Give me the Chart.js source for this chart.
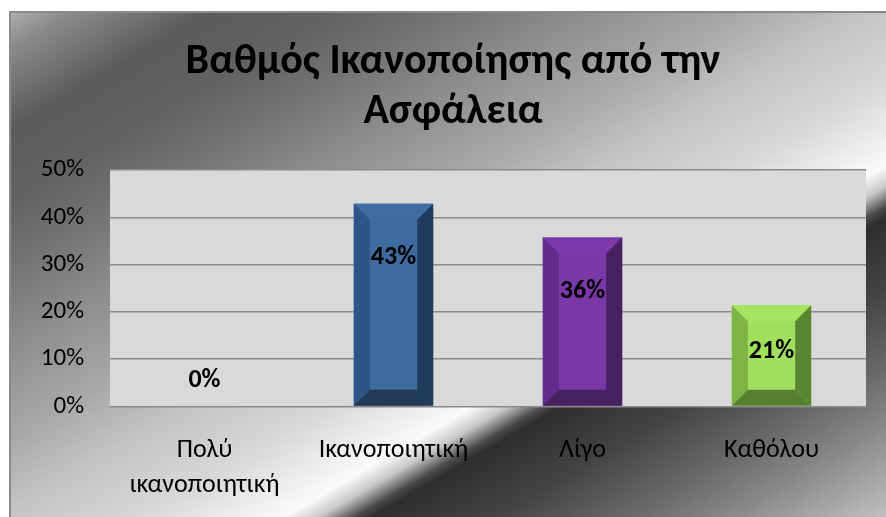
<!DOCTYPE html>
<html>
<head>
<meta charset="utf-8">
<script src="https://cdn.jsdelivr.net/npm/chart.js@4"></script>
<style>
  body { margin: 0; background: #ffffff; }
  canvas { display: block; }
</style>
</head>
<body>
<canvas id="chart" width="886" height="517"></canvas>
<script>
const categories = [['Πολύ', 'ικανοποιητική'], 'Ικανοποιητική', 'Λίγο', 'Καθόλου'];
const values = [0, 42.86, 35.71, 21.43];
const yTicks = [0, 10, 20, 30, 40, 50];
const titleLines = ['Βαθμός Ικανοποίησης από την', 'Ασφάλεια'];

// face, top, left, right, bottom
const barShades = [
    ['#3d6a9f', '#3e6ca3', '#2e5587', '#203a5c', '#233a57'],
    ['#3d6a9f', '#3e6ca3', '#2e5587', '#203a5c', '#233a57'],
    ['#7a37a8', '#7c39ac', '#632b8c', '#47205f', '#452360'],
    ['#a1e05d', '#a5e660', '#80b345', '#5b8631', '#587e31']
];

const FONT = 'Carlito, "Open Sans", sans-serif';

// chrome style background, frame and plot fill
const backdrop = {
    id: 'backdrop',
    beforeDraw(chart) {
        const c = chart.ctx;
        const W = chart.width, H = chart.height;
        c.save();
        c.fillStyle = '#ffffff';
        c.fillRect(0, 0, W, H);
        const s = 2 / (H / W + W / H);
        const g = c.createLinearGradient(0, 0, s * H, s * W);
        g.addColorStop(0.00, '#c4c4c4');
        g.addColorStop(0.05, '#8c8c8c');
        g.addColorStop(0.13, '#5c5c5c');
        g.addColorStop(0.20, '#626262');
        g.addColorStop(0.26, '#727272');
        g.addColorStop(0.35, '#909090');
        g.addColorStop(0.43, '#a8a8a8');
        g.addColorStop(0.50, '#c4c4c4');
        g.addColorStop(0.58, '#d8d8d8');
        g.addColorStop(0.66, '#fafafa');
        g.addColorStop(0.68, '#c8c8c8');
        g.addColorStop(0.70, '#4a4a4a');
        g.addColorStop(0.71, '#2e2e2e');
        g.addColorStop(0.78, '#444444');
        g.addColorStop(0.86, '#6c6c6c');
        g.addColorStop(0.91, '#888888');
        g.addColorStop(1.00, '#c0c0c0');
        c.fillStyle = g;
        c.fillRect(10, 12, W - 10, H - 12);
        c.strokeStyle = '#8a8a8a';
        c.lineWidth = 2;
        c.strokeRect(10, 12, W, H);
        const a = chart.chartArea;
        c.fillStyle = '#d9d9d9';
        c.fillRect(a.left, a.top, a.right - a.left, a.bottom - a.top);
        c.restore();
    },
    afterDraw(chart) {
        const c = chart.ctx;
        c.save();
        c.fillStyle = '#000000';
        c.font = 'bold 42px ' + FONT;
        c.textAlign = 'center';
        c.textBaseline = 'middle';
        titleLines.forEach((line, i) => c.fillText(line, 453, 62 + i * 50));
        c.restore();
    }
};

// bevel facets and value labels
const bevel = {
    id: 'bevel',
    afterDatasetsDraw(chart) {
        const c = chart.ctx;
        const meta = chart.getDatasetMeta(0);
        c.save();
        meta.data.forEach((bar, i) => {
            const l = bar.x - bar.width / 2, r = bar.x + bar.width / 2;
            const t = bar.y, bot = bar.base;
            const h = bot - t;
            const sh = barShades[i];
            if (h > 1) {
                const b = Math.min(16, h / 2, bar.width / 2);
                const poly = (pts, col) => {
                    c.beginPath();
                    c.moveTo(pts[0][0], pts[0][1]);
                    pts.slice(1).forEach(p => c.lineTo(p[0], p[1]));
                    c.closePath();
                    c.fillStyle = col;
                    c.fill();
                };
                poly([[l, t], [r, t], [r - b, t + b], [l + b, t + b]], sh[1]);
                poly([[l, t], [l + b, t + b], [l + b, bot - b], [l, bot]], sh[2]);
                poly([[r, t], [r, bot], [r - b, bot - b], [r - b, t + b]], sh[3]);
                poly([[l, bot], [l + b, bot - b], [r - b, bot - b], [r, bot]], sh[4]);
            }
            const y = h > 1 ? Math.min(t + 54, t + h / 2 - 4) : bot - 26;
            c.fillStyle = '#000000';
            c.font = 'bold 26px ' + FONT;
            c.textAlign = 'center';
            c.textBaseline = 'middle';
            c.fillText(Math.round(values[i]) + '%', bar.x, y);
        });
        c.restore();
    }
};

new Chart(document.getElementById('chart'), {
    type: 'bar',
    data: {
        labels: categories,
        datasets: [{
            data: values,
            backgroundColor: barShades.map(s => s[0]),
            borderWidth: 0,
            barPercentage: 1,
            categoryPercentage: 0.42
        }]
    },
    options: {
        responsive: false,
        devicePixelRatio: 1,
        animation: false,
        layout: {
            padding: { left: 10, right: 20, top: 170, bottom: 14.5 }
        },
        scales: {
            y: {
                min: 0,
                max: 50,
                afterFit(scale) { scale.width = 100; },
                afterBuildTicks(scale) { scale.ticks = yTicks.map(v => ({ value: v })); },
                grid: {
                    color: '#8a8a8a',
                    lineWidth: 1.5,
                    drawTicks: false
                },
                border: { display: false },
                ticks: {
                    color: '#000000',
                    padding: 26,
                    font: { family: FONT, size: 25 },
                    callback: v => v + '%'
                }
            },
            x: {
                afterFit(scale) { scale.height = 96; },
                grid: { display: false, drawTicks: false },
                border: { display: false },
                ticks: {
                    color: '#000000',
                    padding: 26,
                    maxRotation: 0,
                    autoSkip: false,
                    font: { family: FONT, size: 26, lineHeight: 1.35 }
                }
            }
        },
        plugins: {
            legend: { display: false },
            tooltip: { enabled: false },
            title: { display: false }
        }
    },
    plugins: [backdrop, bevel]
});
</script>
</body>
</html>
